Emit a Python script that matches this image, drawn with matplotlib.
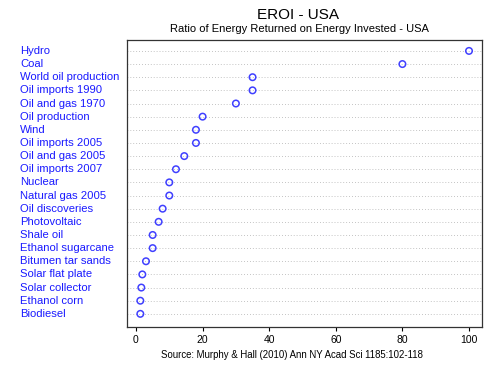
import matplotlib
matplotlib.use("Agg")
import matplotlib.pyplot as plt
import matplotlib.transforms as mtransforms

plt.rcParams['font.family'] = ['Liberation Sans', 'DejaVu Sans']

categories = ["Hydro", "Coal", "World oil production", "Oil imports 1990",
              "Oil and gas 1970", "Oil production", "Wind", "Oil imports 2005",
              "Oil and gas 2005", "Oil imports 2007", "Nuclear", "Natural gas 2005",
              "Oil discoveries", "Photovoltaic", "Shale oil", "Ethanol sugarcane",
              "Bitumen tar sands", "Solar flat plate", "Solar collector",
              "Ethanol corn", "Biodiesel"]
values = [100, 80, 35, 35, 30, 20, 18, 18, 14.5, 12, 10, 10, 8, 6.8, 5, 5,
          3, 1.9, 1.6, 1.3, 1.3]
xticks = [0, 20, 40, 60, 80, 100]

W, H = 502, 376
fig = plt.figure(figsize=(W / 100, H / 100), dpi=100)
L, R, T, B = 127, 482, 40, 327
ax = fig.add_axes([L / W, 1 - B / H, (R - L) / W, (B - T) / H])

n = len(categories)
ypos = list(range(n))
for y in ypos:
    ax.axhline(y, color='#b0b0b0', lw=0.6, ls=(0, (1, 2.5)), zorder=1)
ax.scatter(values, ypos, s=22, facecolors='none', edgecolors='#4040ff',
           linewidths=1.1, zorder=3)

ax.set_ylim(n - 1 + 1.0, -0.83)
ax.set_xlim(-2.7, 103.9)
ax.set_xticks(xticks)
ax.set_xticklabels([str(t) for t in xticks], fontsize=7.5)
ax.tick_params(axis='x', direction='out', length=3, width=0.8, pad=3)
ax.set_yticks([])
trans = mtransforms.blended_transform_factory(fig.transFigure, ax.transData)
for y, lab in zip(ypos, categories):
    ax.text(20 / W, y, lab, transform=trans, ha='left', va='center',
            fontsize=8.1, color='#1a1aff', clip_on=False)
for sp in ax.spines.values():
    sp.set_color('#333333')
    sp.set_linewidth(0.9)

fig.text(298 / W, 1 - 15 / H, "EROI - USA", ha='center', va='center', fontsize=11)
fig.text(299 / W, 1 - 29 / H, "Ratio of Energy Returned on Energy Invested - USA",
         ha='center', va='center', fontsize=8)
fig.text(292 / W, 1 - 355 / H, "Source: Murphy & Hall (2010) Ann NY Acad Sci 1185:102-118",
         ha='center', va='center', fontsize=6.9)

fig.savefig("out.png", dpi=100)
